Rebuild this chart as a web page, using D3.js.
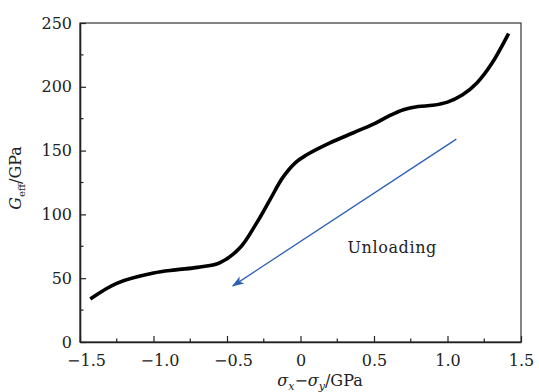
<!DOCTYPE html>
<html>
<head>
<meta charset="utf-8">
<script src="https://cdn.jsdelivr.net/npm/d3@7"></script>
<style>
  body { margin: 0; background: #fff; }
</style>
</head>
<body>
<div id="chart"></div>
<script>
// curve
var stress = [-1.42, -1.25, -1.0, -0.85, -0.7, -0.55, -0.41, -0.3, -0.21, -0.12, -0.03, 0.04,
  0.2, 0.36, 0.5, 0.6, 0.7, 0.8, 0.9, 1.0, 1.1, 1.2, 1.3, 1.41];
var gEff = [34.5, 46, 54, 56.5, 58.5, 62, 74, 93, 111, 129, 141, 146.5,
  156, 164, 171, 177, 182, 184.5, 185.5, 188, 193.5, 203, 218, 240.5];
var xTicks = [-1.5, -1.0, -0.5, 0, 0.5, 1.0, 1.5];
var yTicks = [0, 50, 100, 150, 200, 250];
var arrowX = [1.06, -0.46];
var arrowY = [159, 44];
var noteText = "Unloading";
var notePos = [0.32, 70];

var W = 539, H = 392;
var pL = 80, pR = 521, pT = 23, pB = 342;
var serif = "DejaVu Serif";

var svg = d3.select("#chart").append("svg")
  .attr("width", W).attr("height", H)
  .attr("font-family", serif);

var x = d3.scaleLinear().domain([-1.5, 1.5]).range([pL, pR]);
var y = d3.scaleLinear().domain([0, 250]).range([pB, pT]);

// frame
svg.append("rect")
  .attr("x", pL).attr("y", pT)
  .attr("width", pR - pL).attr("height", pB - pT)
  .attr("fill", "none").attr("stroke", "#333").attr("stroke-width", 1.2);

// minor ticks
var xMinor = d3.range(-1.25, 1.5, 0.5);
var yMinor = d3.range(25, 250, 50);
svg.selectAll(".xminor").data(xMinor).enter().append("line")
  .attr("x1", d => x(d)).attr("x2", d => x(d))
  .attr("y1", pB).attr("y2", pB - 3.5)
  .attr("stroke", "#222").attr("stroke-width", 1.2);
svg.selectAll(".yminor").data(yMinor).enter().append("line")
  .attr("y1", d => y(d)).attr("y2", d => y(d))
  .attr("x1", pL).attr("x2", pL + 3.5)
  .attr("stroke", "#222").attr("stroke-width", 1.2);

function fmtX(d) {
  if (d === 0) return "0";
  return (d < 0 ? "\u2212" : "") + Math.abs(d).toFixed(1);
}

var xAxis = svg.append("g").attr("transform", "translate(0," + pB + ")")
  .call(d3.axisBottom(x).tickValues(xTicks).tickSizeInner(-6).tickSizeOuter(0).tickPadding(13).tickFormat(fmtX))
  .attr("font-family", serif).attr("font-size", 16);
xAxis.select(".domain").attr("stroke", "#222").attr("stroke-width", 1.6);
xAxis.selectAll(".tick line").attr("stroke", "#222").attr("stroke-width", 1.2);
xAxis.selectAll(".tick text").attr("fill", "#222")
  .attr("dx", d => d < 0 ? 6 : 0);

var yAxis = svg.append("g").attr("transform", "translate(" + pL + ",0)")
  .call(d3.axisLeft(y).tickValues(yTicks).tickSizeInner(-6).tickSizeOuter(0).tickPadding(8))
  .attr("font-family", serif).attr("font-size", 16);
yAxis.select(".domain").attr("stroke", "#222").attr("stroke-width", 1.6);
yAxis.selectAll(".tick line").attr("stroke", "#222").attr("stroke-width", 1.2);
yAxis.selectAll(".tick text").attr("fill", "#222");

// axis titles
var yl = svg.append("text")
  .attr("transform", "translate(21,178) rotate(-90)")
  .attr("text-anchor", "middle").attr("font-size", 16).attr("fill", "#222");
yl.append("tspan").attr("font-style", "italic").text("G");
yl.append("tspan").attr("font-size", 10).attr("dy", 4).text("eff");
yl.append("tspan").attr("dy", -4).text("/GPa");

var xl = svg.append("text")
  .attr("x", 320).attr("y", 386)
  .attr("text-anchor", "middle").attr("font-size", 16).attr("fill", "#222");
xl.append("tspan").attr("font-style", "italic").text("\u03c3");
xl.append("tspan").attr("font-style", "italic").attr("font-size", 11).attr("dy", 4).text("x");
xl.append("tspan").attr("dy", -4).text("\u2212");
xl.append("tspan").attr("font-style", "italic").text("\u03c3");
xl.append("tspan").attr("font-style", "italic").attr("font-size", 11).attr("dy", 4).text("y");
xl.append("tspan").attr("dy", -4).text("/GPa");

// curve
var pts = stress.map((s, i) => [s, gEff[i]]);
var line = d3.line().x(d => x(d[0])).y(d => y(d[1])).curve(d3.curveCatmullRom.alpha(0.5));
svg.append("path").datum(pts)
  .attr("d", line)
  .attr("fill", "none").attr("stroke", "#000").attr("stroke-width", 3.6)
  .attr("stroke-linecap", "square");

// arrow
svg.append("defs").append("marker")
  .attr("id", "head").attr("viewBox", "0 0 10 10")
  .attr("refX", 9).attr("refY", 5)
  .attr("markerWidth", 12).attr("markerHeight", 12)
  .attr("markerUnits", "userSpaceOnUse")
  .attr("orient", "auto")
  .append("path").attr("d", "M0,1.5 L10,5 L0,8.5 L2.5,5 Z").attr("fill", "#2b5fb4");

svg.append("line")
  .attr("x1", x(arrowX[0])).attr("y1", y(arrowY[0]))
  .attr("x2", x(arrowX[1])).attr("y2", y(arrowY[1]))
  .attr("stroke", "#2b5fb4").attr("stroke-width", 1.3)
  .attr("marker-end", "url(#head)");

svg.append("text")
  .attr("x", x(notePos[0])).attr("y", y(notePos[1]))
  .attr("font-size", 16).attr("letter-spacing", 0.6).attr("fill", "#222").text(noteText);
</script>
</body>
</html>
